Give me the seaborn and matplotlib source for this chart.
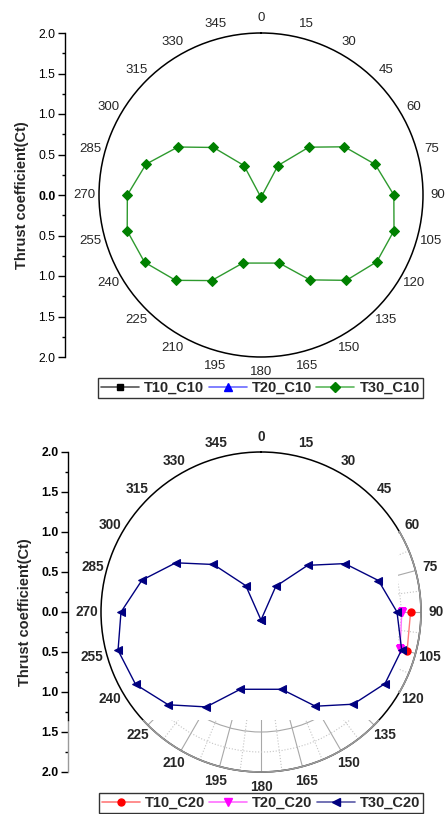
import numpy as np
import matplotlib
matplotlib.use("Agg")
import matplotlib.pyplot as plt
import seaborn as sns
from matplotlib.lines import Line2D
from matplotlib.ticker import FuncFormatter, MultipleLocator, FixedLocator, NullFormatter
from matplotlib.path import Path

sns.set_style("white")
plt.rcParams['font.family'] = ['Liberation Sans', 'DejaVu Sans']

# ---------------- data ----------------
angle_ticks = list(range(0, 360, 15))
ct_ticks = [-2.0, -1.5, -1.0, -0.5, 0.0, 0.5, 1.0, 1.5, 2.0]

# top panel (C10)
t10_c10_angle = []
t10_c10_ct = []
t20_c10_angle = []
t20_c10_ct = []
t30_c10_angle = [180, 30, 45, 60, 75, 90, 105, 120, 135, 150, 165,
                 195, 210, 225, 240, 255, 270, 285, 300, 315, 330]
t30_c10_ct = [0.03, 0.42, 0.835, 1.19, 1.46, 1.64, 1.70, 1.65, 1.49, 1.21, 0.87,
              0.87, 1.22, 1.49, 1.66, 1.71, 1.65, 1.47, 1.185, 0.83, 0.42]

# bottom panel (C20)
t10_c20_angle = [90, 105]
t10_c20_ct = [1.87, 1.89]
t20_c20_angle = [90, 105]
t20_c20_ct = [1.76, 1.80]
t30_c20_angle = [180, 30, 45, 60, 75, 90, 105, 120, 135, 150, 165,
                 195, 210, 225, 240, 255, 270, 285, 300, 315, 330]
t30_c20_ct = [0.10, 0.37, 0.825, 1.21, 1.52, 1.70, 1.82, 1.79, 1.63, 1.36, 1.00,
              1.00, 1.37, 1.64, 1.81, 1.85, 1.75, 1.54, 1.23, 0.84, 0.38]

W, H = 448, 814
fig = plt.figure(figsize=(W / 100, H / 100), dpi=100)


def fx(px):
    return px / W


def fy(py):
    return 1 - py / H


def polar_panel(rect, bold, labelsize):
    ax = fig.add_axes(rect, projection='polar')
    ax.set_theta_zero_location('N')
    ax.set_theta_direction(-1)
    ax.set_rlim(0, 2)
    ax.set_xticks(np.deg2rad(angle_ticks))
    ax.set_xticklabels([str(a) for a in angle_ticks],
                       fontsize=labelsize, fontweight='bold' if bold else 'normal')
    ax.tick_params(axis='x', which='both', length=0, pad=3.5)
    ax.set_rticks([0.5, 1.0, 1.5])
    ax.yaxis.set_major_formatter(NullFormatter())
    ax.tick_params(axis='y', which='both', length=0)
    ax.grid(False)
    ax.spines['polar'].set_color('black')
    ax.spines['polar'].set_linewidth(1.1)
    ax.patch.set_alpha(0)
    return ax


def series(ax, ang, ct, color, lcolor, marker, ms):
    a = list(ang) + list(ang[:1])
    c = list(ct) + list(ct[:1])
    if len(ang) > 2:
        sns.lineplot(x=np.deg2rad(a), y=c, ax=ax, sort=False, estimator=None,
                     color=lcolor, lw=1.0, marker=marker, markersize=ms,
                     markerfacecolor=color, markeredgecolor=color, legend=False)
    else:
        ax.plot(np.deg2rad(ang), ct, color=lcolor, lw=1.0, marker=marker,
                markersize=ms, markerfacecolor=color, markeredgecolor=color)


def left_axis(top_px, bot_px, x_px, bold, label_x_px, gray_below=None):
    lax = fig.add_axes([fx(x_px), fy(bot_px), 0.004, (bot_px - top_px) / H])
    lax.set_ylim(-2, 2)
    lax.patch.set_alpha(0)
    for s in ['top', 'right', 'bottom']:
        lax.spines[s].set_visible(False)
    lax.spines['left'].set_color('black')
    lax.spines['left'].set_linewidth(1.0)
    lax.set_xticks([])
    lax.yaxis.set_major_locator(FixedLocator(ct_ticks))
    lax.yaxis.set_minor_locator(MultipleLocator(0.25))
    lax.yaxis.set_major_formatter(FuncFormatter(lambda v, p: f"{abs(v):.1f}"))
    lax.tick_params(axis='y', which='major', direction='out', length=5, width=1,
                    labelsize=8.8, pad=2, colors='black', left=True)
    lax.tick_params(axis='y', which='minor', direction='out', length=2.5, width=1,
                    colors='black', left=True)
    for lab in lax.get_yticklabels():
        lab.set_fontweight('bold' if bold else 'normal')
        if not bold and lab.get_text() == '0.0':
            lab.set_fontweight('bold')
    if gray_below is not None:
        lax.spines['left'].set_bounds(gray_below, 2)
        lax.axvline(0, ymin=0, ymax=(gray_below + 2) / 4, color='#9a9a9a', lw=1.0,
                    clip_on=False)
        for t in lax.yaxis.get_major_ticks() + lax.yaxis.get_minor_ticks():
            if t.get_loc() < gray_below:
                t.tick1line.set_color('#9a9a9a')
    fig.text(fx(label_x_px), fy((top_px + bot_px) / 2), 'Thrust coefficient(Ct)',
             rotation=90, ha='center', va='center', fontsize=10.5, fontweight='bold')
    return lax


# ---------------- top panel ----------------
ax1 = polar_panel([fx(99), fy(357), fx(324), 324 / H], False, 9.5)
series(ax1, t10_c10_angle, t10_c10_ct, 'black', '#555555', 's', 5)
series(ax1, t20_c10_angle, t20_c10_ct, 'blue', '#5a5aff', '^', 5.5)
series(ax1, t30_c10_angle, t30_c10_ct, 'green', '#2e9a2e', 'D', 5)
left_axis(33, 357, 65, False, 22)

h1 = [Line2D([], [], color='#555555', lw=1.2, marker='s', ms=5, mfc='black', mec='black'),
      Line2D([], [], color='#6a6aff', lw=1.2, marker='^', ms=6, mfc='blue', mec='blue'),
      Line2D([], [], color='#5cb85c', lw=1.2, marker='D', ms=5, mfc='green', mec='green')]
leg1 = fig.legend(h1, ['T10_C10', 'T20_C10', 'T30_C10'], loc='center',
                  bbox_to_anchor=(fx(260.5), fy(387.7)), ncol=3, frameon=True,
                  fancybox=False, edgecolor='black', handlelength=2.6,
                  handletextpad=0.35, columnspacing=0.3, borderpad=0.2,
                  prop={'weight': 'bold', 'size': 10.5})
leg1.get_frame().set_linewidth(1.0)

# ---------------- bottom panel ----------------
ax2 = polar_panel([fx(100), fy(772), fx(322), 320 / H], True, 9.8)
series(ax2, t10_c20_angle, t10_c20_ct, 'red', '#ff7a7a', 'o', 5)
series(ax2, t20_c20_angle, t20_c20_ct, 'magenta', '#ff70ff', 'v', 5.5)
series(ax2, t30_c20_angle, t30_c20_ct, 'navy', 'navy', '<', 6)
left_axis(452, 772, 68, True, 25, gray_below=-1.35)

# faint partial grid (rendering artefact in the original)
ax2.xaxis.set_minor_locator(FixedLocator(np.deg2rad(np.arange(7.5, 360, 15))))
ax2.yaxis.set_minor_locator(FixedLocator([0.25, 0.75, 1.25, 1.75]))
ax2.yaxis.set_minor_formatter(NullFormatter())
ax2.xaxis.set_minor_formatter(NullFormatter())
ax2.grid(True, which='major', color='#a8a8a8', lw=0.8, ls='-')
ax2.grid(True, which='minor', color='#c4c4c4', lw=0.8, ls=':')


def rect_path(x0, y0, x1, y1):
    return Path([(fx(x0), fy(y0)), (fx(x1), fy(y0)), (fx(x1), fy(y1)),
                 (fx(x0), fy(y1)), (fx(x0), fy(y0))],
                [Path.MOVETO, Path.LINETO, Path.LINETO, Path.LINETO, Path.CLOSEPOLY])


clip = Path.make_compound_path(rect_path(0, 720, 448, 814), rect_path(398, 531, 448, 693))
for t in (ax2.xaxis.get_major_ticks() + ax2.xaxis.get_minor_ticks()
          + ax2.yaxis.get_major_ticks() + ax2.yaxis.get_minor_ticks()):
    t.gridline.set_clip_path(clip, fig.transFigure)

rim_theta = np.linspace(0, 2 * np.pi, 721)
rim, = ax2.plot(rim_theta, np.full_like(rim_theta, 2.0), color='#9a9a9a', lw=1.2, zorder=5)
rim.set_clip_path(clip, fig.transFigure)

h2 = [Line2D([], [], color='#ff7a7a', lw=1.2, marker='o', ms=5, mfc='red', mec='red'),
      Line2D([], [], color='#ff70ff', lw=1.2, marker='v', ms=6, mfc='magenta', mec='magenta'),
      Line2D([], [], color='#5a5aa8', lw=1.2, marker='<', ms=6, mfc='navy', mec='navy')]
leg2 = fig.legend(h2, ['T10_C20', 'T20_C20', 'T30_C20'], loc='center',
                  bbox_to_anchor=(fx(261), fy(803)), ncol=3, frameon=True,
                  fancybox=False, edgecolor='black', handlelength=2.6,
                  handletextpad=0.35, columnspacing=0.3, borderpad=0.2,
                  prop={'weight': 'bold', 'size': 10.5})
leg2.get_frame().set_linewidth(1.0)

fig.savefig('out.png', dpi=100)
